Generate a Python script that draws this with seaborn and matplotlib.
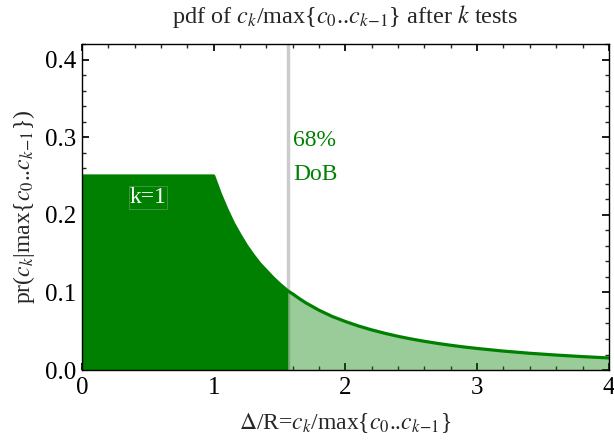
import numpy as np
import pandas as pd
import matplotlib
matplotlib.use("Agg")
import matplotlib.pyplot as plt
import seaborn as sns
from matplotlib.ticker import MultipleLocator

# data
ratio = [0.0, 0.5, 1.0, 1.05, 1.1, 1.15, 1.2, 1.25, 1.3, 1.35, 1.4, 1.45, 1.5, 1.5625,
         1.6, 1.65, 1.7, 1.8, 1.9, 2.0, 2.1, 2.2, 2.3, 2.4, 2.5, 2.6, 2.7, 2.8, 2.9,
         3.0, 3.2, 3.4, 3.6, 3.8, 4.0]
pdf = [0.25, 0.25, 0.25, 0.227, 0.207, 0.189, 0.174, 0.160, 0.148, 0.137, 0.128, 0.119,
       0.111, 0.102, 0.098, 0.092, 0.0865, 0.077, 0.069, 0.0625, 0.0567, 0.0517, 0.0473,
       0.0434, 0.040, 0.037, 0.0343, 0.0319, 0.0297, 0.0278, 0.0244, 0.0216, 0.0193,
       0.0173, 0.0156]
dob_cut = 1.5625
x_ticks = [0, 1, 2, 3, 4]
y_ticks = [0.0, 0.1, 0.2, 0.3, 0.4]

df = pd.DataFrame({"ratio": ratio, "pdf": pdf})

sns.set_theme(style="ticks")
plt.rcParams["font.family"] = ["Liberation Serif", "DejaVu Serif"]
plt.rcParams["mathtext.fontset"] = "stix"
plt.rcParams.update({
    "xtick.direction": "in", "ytick.direction": "in",
    "xtick.top": True, "ytick.right": True,
    "xtick.minor.visible": True, "ytick.minor.visible": True,
    "xtick.major.size": 5, "ytick.major.size": 5,
    "xtick.minor.size": 3, "ytick.minor.size": 3,
    "axes.edgecolor": "black", "axes.linewidth": 1.0,
})

fig = plt.figure(figsize=(6.14, 4.4), dpi=100)
ax = fig.add_axes([0.1336, 0.159, 0.858, 0.741])

green = "#008000"
inner = df[df["ratio"] <= dob_cut]
outer = df[df["ratio"] >= dob_cut]
ax.fill_between(inner["ratio"], 0, inner["pdf"], color=green, linewidth=0)
ax.fill_between(outer["ratio"], 0, outer["pdf"], color=green, alpha=0.4, linewidth=0)
sns.lineplot(data=df, x="ratio", y="pdf", ax=ax, color=green, linewidth=2.3)
ax.axvline(dob_cut, color="#cccccc", linewidth=2.5, zorder=0.5)

ax.text(0.5, 0.222, "k=1", color="white", fontsize=17, ha="center", va="center",
        bbox=dict(facecolor="none", edgecolor="#4a9a4a", linewidth=0.6, pad=0.5))
ax.text(dob_cut + 0.04, 0.296, "68%", color=green, fontsize=17, ha="left", va="center")
ax.text(dob_cut + 0.04, 0.252, "DoB", color=green, fontsize=17, ha="left", va="center")

ax.set_xlim(0, 4)
ax.set_ylim(0, 0.42)
ax.set_xticks(x_ticks)
ax.set_yticks(y_ticks)
ax.set_xticklabels([str(t) for t in x_ticks])
ax.set_yticklabels([f"{t:.1f}" for t in y_ticks])
ax.xaxis.set_minor_locator(MultipleLocator(0.2))
ax.yaxis.set_minor_locator(MultipleLocator(0.02))
ax.tick_params(labelsize=18, colors="black")
ax.tick_params(axis="x", pad=5)
ax.tick_params(axis="y", pad=4)

ax.set_title(r"pdf of $c_k$/max{$c_0$..$c_{k\!-\!1}$} after $k$ tests", fontsize=17.5, pad=15)
ax.set_xlabel(r"$\Delta$/R=$c_k$/max{$c_0$..$c_{k\!-\!1}$}", fontsize=17, labelpad=9)
ax.set_ylabel(r"pr($c_k$|max{$c_0$..$c_{k\!-\!1}$})", fontsize=17, labelpad=6)

fig.savefig("out.png", dpi=100)
